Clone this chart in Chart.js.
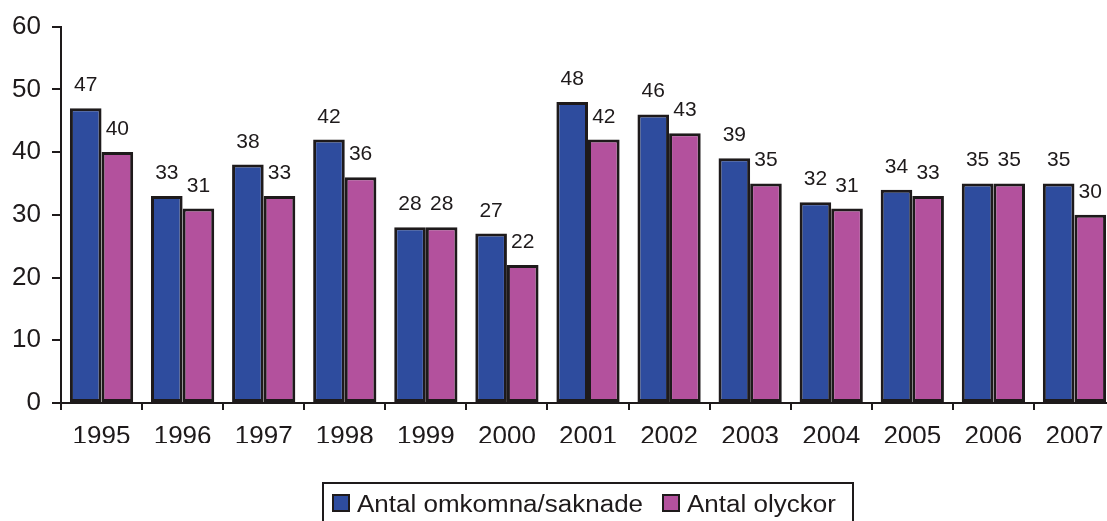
<!DOCTYPE html>
<html lang="sv">
  <head>
    <meta charset="UTF-8">
    <title>Antal omkomna och olyckor</title>
    <style>
      html, body { margin: 0; padding: 0; background: #fff; overflow: hidden; }
      #wrap { width: 1115px; height: 521px; }
    </style>
  </head>
  <body>
    <div id="wrap"><canvas id="myChart"></canvas></div>

    <script src="https://cdn.jsdelivr.net/npm/chart.js"></script>
    <script>
      const years = ["1995", "1996", "1997", "1998", "1999", "2000", "2001", "2002", "2003", "2004", "2005", "2006", "2007"];
      const omkomna = [47, 33, 38, 42, 28, 27, 48, 46, 39, 32, 34, 35, 35];
      const olyckor = [40, 31, 33, 36, 28, 22, 42, 43, 35, 31, 33, 35, 30];
      const yTicks = [0, 10, 20, 30, 40, 50, 60];

      const ink = "#1E1A1B";
      const font = "'Liberation Sans', Arial, sans-serif";

      // numbers above each bar
      const valueLabels = {
        id: "valueLabels",
        afterDatasetsDraw(chart) {
          const c = chart.ctx;
          c.save();
          c.fillStyle = ink;
          c.font = "21px " + font;
          c.textAlign = "center";
          c.textBaseline = "alphabetic";
          chart.data.datasets.forEach((ds, i) => {
            chart.getDatasetMeta(i).data.forEach((bar, j) => {
              c.fillText(ds.data[j], bar.x, bar.y - 17);
            });
          });
          c.restore();
        }
      };

      // legend in a framed box at the bottom
      const boxLegend = {
        id: "boxLegend",
        afterDraw(chart) {
          const c = chart.ctx;
          c.save();
          c.strokeStyle = ink;
          c.lineWidth = 2;
          c.strokeRect(323, 483, 530, 60);
          c.font = "23px " + font;
          c.textBaseline = "alphabetic";
          c.textAlign = "left";
          const xs = [333, 663];
          chart.data.datasets.forEach((ds, i) => {
            c.fillStyle = ds.backgroundColor;
            c.fillRect(xs[i], 495, 16, 16);
            c.strokeRect(xs[i], 495, 16, 16);
            c.fillStyle = ink;
            c.save();
            c.translate(xs[i] + 24, 512);
            c.scale(1.13, 1);
            c.fillText(ds.label, 0, 0);
            c.restore();
          });
          c.restore();
        }
      };

      const ctx = document.getElementById("myChart");
      const chart = new Chart(ctx, {
        type: "bar",
        data: {
          labels: years,
          datasets: [
            { label: "Antal omkomna/saknade", data: omkomna, backgroundColor: "#2E4C9E", borderColor: ink, borderWidth: 3, borderSkipped: false },
            { label: "Antal olyckor", data: olyckor, backgroundColor: "#B3519D", borderColor: ink, borderWidth: 3, borderSkipped: false }
          ]
        },
        options: {
          responsive: true,
          maintainAspectRatio: false,
          animation: false,
          layout: { padding: { top: 24, right: 0, bottom: 78, left: 0 } },
          datasets: { bar: { categoryPercentage: 0.78, barPercentage: 1.0 } },
          plugins: { legend: { display: false }, tooltip: { enabled: false } },
          scales: {
            x: {
              grid: { drawOnChartArea: false, offset: true, color: ink, lineWidth: 2, tickLength: 7 },
              border: { color: ink, width: 2 },
              ticks: { color: ink, font: { family: font, size: 26 }, padding: 11, maxRotation: 0 },
              afterFit(scale) { scale.height = 40; }
            },
            y: {
              min: 0,
              max: 60,
              afterBuildTicks(scale) { scale.ticks = yTicks.map(v => ({ value: v })); },
              grid: { drawOnChartArea: false, color: ink, lineWidth: 2, tickLength: 9 },
              border: { color: ink, width: 2 },
              ticks: { color: ink, font: { family: font, size: 26 }, padding: 11 },
              afterFit(scale) { scale.width = 61; }
            }
          }
        },
        plugins: [valueLabels, boxLegend]
      });
    </script>
  </body>
</html>
